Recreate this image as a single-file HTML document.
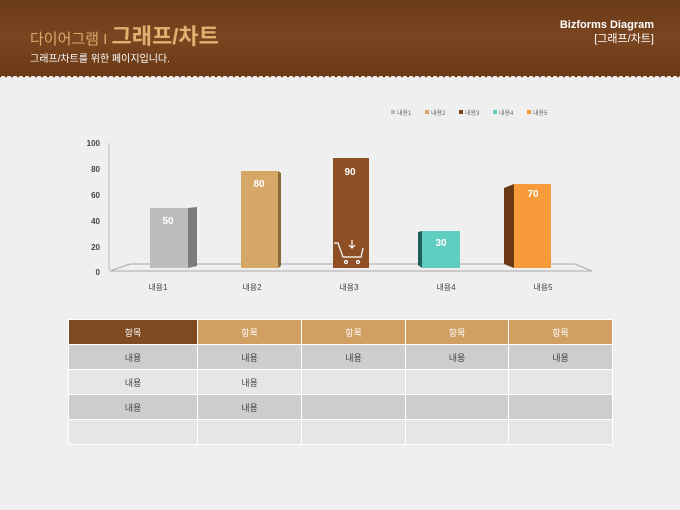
<!DOCTYPE html><html><head><meta charset="utf-8"><style>
body{margin:0;width:680px;height:510px;background:#efefef;font-family:"Liberation Sans","Noto Sans CJK KR",sans-serif;position:relative;overflow:hidden}
.hd{position:absolute;left:0;top:0;width:680px;height:76px;background:linear-gradient(180deg,#6a3a17,#7a4520 50%,#6b3a16)}
.zz{position:absolute;left:0;top:74px;width:680px;height:6px;background:linear-gradient(135deg,#6b3a16 33%,transparent 33%) 0 0/6px 6px,linear-gradient(225deg,#6b3a16 33%,transparent 33%) 0 0/6px 6px}
.t{position:absolute;white-space:nowrap;line-height:1}
table{position:absolute;left:68px;top:319px;border-collapse:collapse;font-size:9px;color:#444}
td{border:1px solid #fff;height:24px;text-align:center;padding:0}
</style></head><body>
<div class="hd"></div><div class="zz"></div>
<div class="t" style="left:30px;top:26px;font-size:15px;color:#d9a86a">다이어그램 I <b style="font-size:22px;color:#e0b070">그래프/차트</b></div>
<div class="t" style="left:30px;top:55px;font-size:10px;color:#fff">그래프/차트를 위한 페이지입니다.</div>
<div class="t" style="right:26px;top:18px;font-size:11px;color:#fff;font-weight:bold;text-align:right;line-height:1.3">Bizforms Diagram<br><span style="font-weight:normal">[그래프/차트]</span></div>
<svg width="680" height="510" style="position:absolute;left:0;top:0" font-family="Liberation Sans, Noto Sans CJK KR, sans-serif">
<g font-size="6" fill="#666">
<rect x="391" y="110" width="4" height="4" fill="#bbb"/><text x="397" y="115">내용1</text>
<rect x="425" y="110" width="4" height="4" fill="#d6a868"/><text x="431" y="115">내용2</text>
<rect x="459" y="110" width="4" height="4" fill="#7a4520"/><text x="465" y="115">내용3</text>
<rect x="493" y="110" width="4" height="4" fill="#5fcdc0"/><text x="499" y="115">내용4</text>
<rect x="527" y="110" width="4" height="4" fill="#f79a3a"/><text x="533" y="115">내용5</text>
</g>
<g font-size="8" font-weight="bold" fill="#444" text-anchor="end">
<text x="100" y="146">100</text><text x="100" y="172">80</text><text x="100" y="198">60</text><text x="100" y="224">40</text><text x="100" y="250">20</text><text x="100" y="275">0</text></g>
<line x1="109" y1="143" x2="109" y2="270" stroke="#bbb"/>
<polygon points="110,271 130,264 575,264 592,271" fill="none" stroke="#aaa"/>
<rect x="150" y="208" width="38" height="60" fill="#bdbdbd"/><polygon points="188,208 197,207 197,266 188,268" fill="#7c7c7c"/>
<rect x="241" y="171" width="37" height="97" fill="#d6a868"/><polygon points="278,171 281,173 281,266 278,268" fill="#8b6a3a"/>
<rect x="333" y="158" width="36" height="110" fill="#8e4f24"/>
<rect x="422" y="231" width="38" height="37" fill="#5fcdc0"/><polygon points="418,232 422,231 422,268 418,265" fill="#1f5f5a"/>
<rect x="514" y="184" width="37" height="84" fill="#f79a3a"/><polygon points="504,188 514,184 514,268 504,264" fill="#6b3a14"/>
<g font-size="10" font-weight="bold" fill="#fff" text-anchor="middle">
<text x="168" y="224">50</text><text x="259" y="187">80</text><text x="350" y="175">90</text><text x="441" y="246">30</text><text x="533" y="197">70</text></g>
<g stroke="#fff" fill="none" stroke-width="1.2"><path d="M334,243 h4 l5,14 h18 l2,-9"/><path d="M352,240 v8 M349,245 l3,3 3,-3"/><circle cx="346" cy="262" r="1.5"/><circle cx="358" cy="262" r="1.5"/></g>
<g font-size="8" fill="#444" text-anchor="middle"><text x="158" y="290">내용1</text><text x="252" y="290">내용2</text><text x="349" y="290">내용3</text><text x="446" y="290">내용4</text><text x="543" y="290">내용5</text></g>
</svg>
<table>
<tr style="color:#fff"><td style="width:128px;background:#7f4a22">항목</td><td style="width:103px;background:#cfa062">항목</td><td style="width:103px;background:#cfa062">항목</td><td style="width:102px;background:#cfa062">항목</td><td style="width:103px;background:#cfa062">항목</td></tr>
<tr style="background:#cdcdcd"><td>내용</td><td>내용</td><td>내용</td><td>내용</td><td>내용</td></tr>
<tr style="background:#e6e6e6"><td>내용</td><td>내용</td><td></td><td></td><td></td></tr>
<tr style="background:#cdcdcd"><td>내용</td><td>내용</td><td></td><td></td><td></td></tr>
<tr style="background:#e6e6e6"><td></td><td></td><td></td><td></td><td></td></tr>
</table>
</body></html>
